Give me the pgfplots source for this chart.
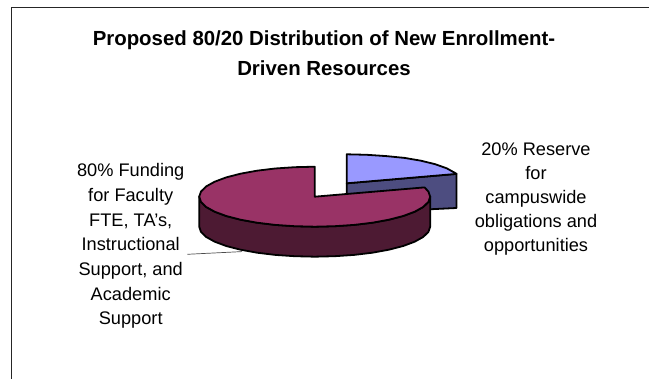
\documentclass[border=0pt]{standalone}
\usepackage{fontspec}
\setmainfont{Liberation Sans}
\usepackage{pgfplots}
\pgfplotsset{compat=1.18}
% Outline colours of the two slices
\definecolor{reserveTop}{HTML}{9999FF}
\definecolor{reserveSide}{HTML}{4D4D80}
\definecolor{fundTop}{HTML}{993366}
\definecolor{fundSide}{HTML}{4D1A33}
\begin{document}
\begin{tikzpicture}
\begin{axis}[
  scale only axis, width=649pt, height=379pt,
  xmin=0, xmax=649, ymin=0, ymax=379, y dir=reverse,
  axis lines=none, clip=true,
  every axis plot/.append style={line join=round},
]
% Invisible diagonal that fixes the extent of the page
\addplot[draw=none] coordinates {(0,0) (649,379)};
% Chart area border
\addplot[black!85, line width=1.3pt] coordinates {(11.5,379) (11.5,7.5) (649,7.5)};
% 20% slice: cut face, then top
\addplot[fill=reserveSide, draw=black, line width=1.8pt] coordinates {
 (346.7,183.3) (456.5,173.9) (456.5,208) (346.7,213.3)} -- cycle;
\addplot[fill=reserveTop, draw=black, line width=1.8pt] coordinates {
 (346.7,183.3) (346.7,154.3) (366.8,154.8) (386.2,156.1) (404.5,157.9) (420.9,160.7)
 (435.2,164.2) (446.7,168.3) (455.2,173.0) (456.5,173.9)} -- cycle;
% Leader line of the 80% label
\addplot[black!70, line width=0.7pt] coordinates {(187.3,254.3) (242,251.6)};
% 80% slice: rim, then top
\addplot[fill=fundSide, draw=black, line width=1.8pt] coordinates {
 (199.2,196.7) (201.0,201.9) (206.2,207.0) (214.7,211.7) (226.2,216.0) (240.5,219.7)
 (257.0,222.7) (275.2,224.9) (294.6,226.2) (314.7,226.7) (334.8,226.2) (354.2,224.9)
 (372.5,222.7) (388.9,219.7) (403.2,216.0) (414.7,211.7) (423.2,207.0) (428.4,201.9)
 (430.2,196.7)
 (430.2,226.7) (428.4,231.9) (423.2,237.0) (414.7,241.7) (403.2,246.0) (388.9,249.7)
 (372.5,252.7) (354.2,254.9) (334.8,256.2) (314.7,256.7) (294.6,256.2) (275.2,254.9)
 (257.0,252.7) (240.5,249.7) (226.2,246.0) (214.7,241.7) (206.2,237.0) (201.0,231.9)
 (199.2,226.7)} -- cycle;
\addplot[fill=fundTop, draw=black, line width=1.8pt] coordinates {
 (314.7,196.7) (314.7,166.7) (294.6,167.2) (275.2,168.5) (257.0,170.7) (240.5,173.7)
 (226.2,177.4) (214.7,181.7) (206.2,186.4) (201.0,191.5) (199.2,196.7) (201.0,201.9)
 (206.2,207.0) (214.7,211.7) (226.2,216.0) (240.5,219.7) (257.0,222.7) (275.2,224.9)
 (294.6,226.2) (314.7,226.7) (334.8,226.2) (354.2,224.9) (372.5,222.7) (388.9,219.7)
 (403.2,216.0) (414.7,211.7) (423.2,207.0) (428.4,201.9) (430.2,196.7) (428.4,191.5)
 (424.5,187.4)} -- cycle;
% Title and slice labels
\node[font=\bfseries\fontsize{20.4}{30}\selectfont, align=center, anchor=center]
  at (axis cs:324,53.5) {Proposed 80/20 Distribution of New Enrollment-\\Driven Resources};
\node[font=\fontsize{18.2}{24.7}\selectfont, align=center, anchor=center]
  at (axis cs:130.7,246) {80\% Funding\\for Faculty\\FTE, TA's,\\Instructional\\Support, and\\Academic\\Support};
\node[font=\fontsize{18.2}{24}\selectfont, align=center, anchor=center]
  at (axis cs:536,199) {20\% Reserve\\for\\campuswide\\obligations and\\opportunities};
\end{axis}
\end{tikzpicture}
\end{document}
